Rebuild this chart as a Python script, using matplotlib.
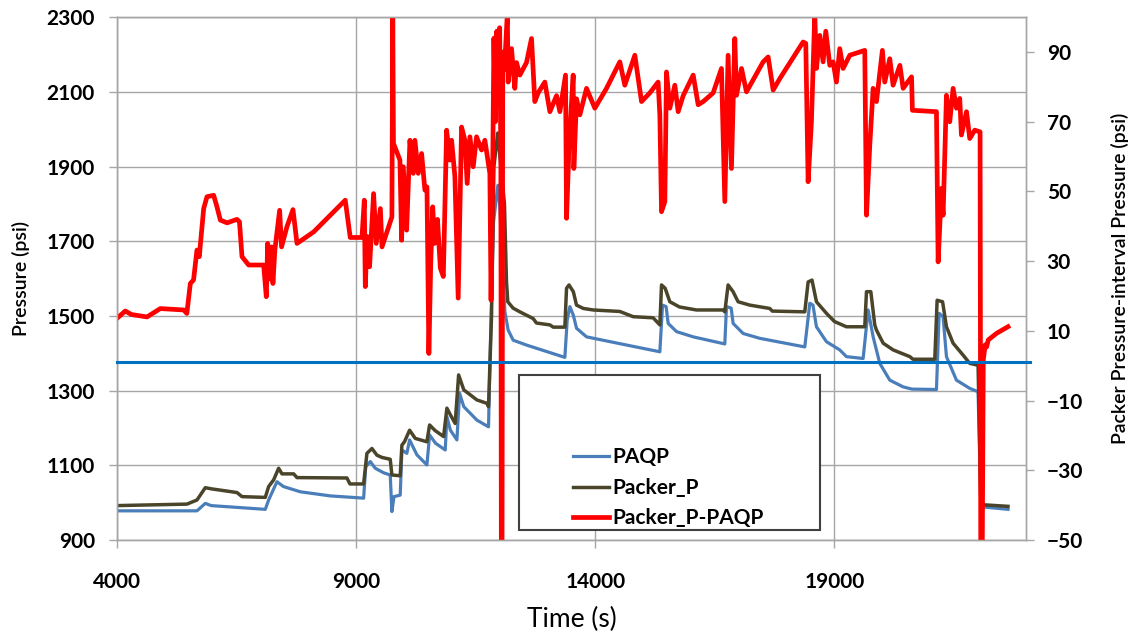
import matplotlib
matplotlib.use("Agg")
import matplotlib.pyplot as plt
from matplotlib.patches import Rectangle

plt.rcParams["font.family"] = ["Lato", "DejaVu Sans"]

# PAQP pressure (psi) against time (s)
paqp_t = [4000, 5672, 5846, 5967, 7100, 7170, 7344, 7480, 7832, 8459, 9156, 9200,
          9295, 9400, 9572, 9712, 9747, 9790, 9921, 9956, 10060, 10117, 10270, 10479,
          10535, 10660, 10862, 10897, 10970, 11106, 11162, 11250, 11524, 11767, 11802,
          11870, 11963, 12000, 12109, 12178, 12283, 12561, 13363, 13412, 13468, 13540,
          13607, 13816, 14234, 15349, 15405, 15480, 15523, 15698, 16046, 16707, 16742,
          16840, 16881, 17090, 17439, 18379, 18484, 18550, 18623, 18832, 19110, 19250,
          19599, 19703, 19808, 19947, 20156, 20435, 20620, 21132, 21188, 21270, 21341,
          21550, 21828, 22002, 22060, 22141, 22628]
paqp_p = [978, 978, 998, 992, 982, 1007, 1056, 1043, 1029, 1018, 1012, 1096,
          1110, 1092, 1080, 1074, 976, 1016, 1020, 1141, 1132, 1168, 1128, 1101,
          1181, 1159, 1141, 1230, 1194, 1168, 1293, 1257, 1221, 1203, 1400,
          1750, 1850, 1800, 1511, 1462, 1435, 1422, 1389, 1489, 1525, 1502,
          1467, 1444, 1433, 1404, 1529, 1525, 1480, 1458, 1444, 1425, 1525,
          1521, 1480, 1453, 1440, 1417, 1534, 1529, 1471, 1431, 1409, 1391,
          1386, 1516, 1444, 1373, 1328, 1310, 1304, 1303, 1507, 1498, 1391,
          1328, 1306, 1297, 995, 988, 982]

# Packer pressure (psi) against time (s)
packer_t = [4000, 5463, 5672, 5846, 5967, 6508, 6613, 7100, 7170, 7275, 7379, 7449,
            7693, 7763, 8807, 8870, 9156, 9225, 9330, 9434, 9540, 9712, 9747, 9921,
            9956, 10010, 10117, 10235, 10479, 10535, 10650, 10828, 10897, 10970, 11070,
            11142, 11250, 11524, 11733, 11767, 11830, 11880, 11960, 12100, 12143, 12170,
            12280, 12422, 12700, 12770, 13050, 13120, 13363, 13398, 13450, 13540, 13607,
            13750, 13955, 14512, 14791, 15209, 15349, 15384, 15460, 15558, 15760, 16115,
            16671, 16707, 16776, 16880, 16985, 17230, 17648, 17700, 18379, 18449, 18530,
            18623, 18832, 19000, 19250, 19633, 19669, 19760, 19842, 19878, 20018, 20227,
            20575, 20640, 21097, 21146, 21260, 21341, 21480, 21689, 21828, 22002, 22060,
            22141, 22628]
packer_p = [992, 996, 1007, 1040, 1037, 1027, 1016, 1014, 1043, 1061, 1092, 1077,
            1077, 1067, 1066, 1050, 1050, 1132, 1145, 1127, 1121, 1116, 1074, 1072,
            1154, 1163, 1194, 1172, 1163, 1208, 1193, 1177, 1253, 1235, 1212,
            1342, 1302, 1275, 1266, 1257, 1500, 1900, 1990, 1800, 1591, 1538,
            1521, 1511, 1493, 1481, 1476, 1470, 1470, 1574, 1583, 1565, 1529,
            1520, 1516, 1512, 1498, 1495, 1476, 1583, 1574, 1538, 1524, 1516,
            1516, 1511, 1583, 1565, 1538, 1529, 1520, 1513, 1511, 1591, 1596,
            1538, 1507, 1485, 1471, 1471, 1565, 1565, 1476, 1462, 1427, 1409,
            1391, 1384, 1384, 1542, 1538, 1471, 1427, 1395, 1373, 1368, 1000,
            994, 990]

# Packer minus interval pressure (psi), right axis
diff_t = [4000, 4174, 4300, 4627, 4905, 5394, 5460, 5533, 5600, 5672, 5720, 5777,
          5812, 5881, 6021, 6090, 6160, 6300, 6508, 6560, 6613, 6752, 7066, 7121,
          7150, 7190, 7230, 7260, 7300, 7400, 7440, 7553, 7679, 7763, 8111, 8772,
          8876, 9121, 9170, 9191, 9230, 9280, 9364, 9420, 9506, 9540, 9747, 9765,
          9780, 9915, 9950, 9985, 10055, 10124, 10194, 10228, 10298, 10368, 10437, 10480,
          10520, 10560, 10600, 10640, 10700, 10760, 10822, 10891, 10960, 10995, 11064, 11133,
          11203, 11273, 11321, 11378, 11447, 11517, 11622, 11691, 11795, 11820, 11850, 11880,
          11910, 11940, 11975, 12000, 12025, 12035, 12050, 12065, 12100, 12160, 12178, 12248,
          12317, 12352, 12422, 12561, 12666, 12735, 12805, 12944, 13050, 13189, 13259, 13377,
          13398, 13454, 13537, 13551, 13607, 13677, 13816, 13990, 14234, 14512, 14617, 14826,
          14966, 15140, 15313, 15349, 15384, 15453, 15488, 15558, 15662, 15732, 15837, 16046,
          16150, 16255, 16464, 16637, 16707, 16776, 16846, 16916, 16951, 17056, 17160, 17509,
          17613, 17718, 17857, 18344, 18400, 18449, 18518, 18588, 18623, 18693, 18762, 18818,
          18902, 18971, 19041, 19110, 19180, 19320, 19633, 19669, 19738, 19808, 19878, 20002,
          20051, 20156, 20225, 20367, 20435, 20611, 20629, 21132, 21167, 21237, 21271, 21341,
          21410, 21480, 21550, 21619, 21654, 21760, 21828, 21933, 22044, 22058, 22090, 22111,
          22150, 22181, 22215, 22389, 22628]
diff_p = [13.6, 15.7, 14.7, 14.0, 16.4, 16.0, 15.0, 23.6, 24.6, 33.2, 31.3, 39.9,
          45.1, 48.5, 48.9, 45.6, 41.8, 41.0, 42.0, 41.3, 31.3, 28.9, 28.9, 19.8,
          35.1, 24.9, 34.1, 23.6, 33.2, 44.6, 34.1, 39.9, 44.8, 35.1, 38.4, 47.5,
          36.8, 36.8, 47.5, 22.7, 37.1, 28.4, 49.4, 35.1, 45.1, 34.1, 42.7, 101,
          63.8, 59.0, 36.0, 57.1, 38.9, 64.7, 55.2, 64.7, 55.2, 60.9, 50.4, 51.3,
          3.5, 30.0, 45.6, 35.1, 42.0, 28.0, 25.6, 67.6, 59.0, 64.7, 54.3, 19.4,
          68.5, 64.7, 52.3, 65.7, 57.1, 65.7, 61.9, 64.7, 55.2, 18.8, 50.0, 94.0,
          70.0, 96.0, 88.0, 97.0, 60.0, -52, -52, 90.0, 85.0, 101, 81.4, 91.0,
          79.6, 87.0, 83.4, 87.0, 93.9, 75.8, 78.3, 81.4, 72.9, 77.5, 72.9, 83.4,
          42.3, 64.3, 83.4, 56.6, 76.6, 72.0, 79.6, 73.9, 79.6, 87.2, 80.5, 89.1,
          75.8, 78.3, 81.4, 71.9, 44.2, 47.1, 84.3, 73.9, 80.5, 72.9, 77.5, 83.4,
          74.9, 75.8, 78.3, 85.3, 47.1, 89.1, 56.6, 93.9, 77.6, 85.3, 78.6, 87.2,
          88.6, 79.1, 82.4, 92.9, 92.5, 52.8, 70.0, 101, 85.3, 94.8, 87.2, 96.0,
          86.2, 87.2, 81.4, 91.0, 85.3, 89.1, 90.5, 43.2, 63.3, 79.6, 75.8, 90.5,
          81.4, 88.1, 80.5, 86.2, 79.6, 82.9, 73.3, 72.9, 29.8, 50.9, 43.2, 77.6,
          70.0, 79.6, 73.9, 76.7, 66.2, 72.9, 65.2, 67.6, 67.1, -52, -52, 1.6,
          6.0, 5.4, 7.4, 9.3, 11.2]

ref_level = 1.0  # reference line on the right axis (psi)

grid_col = "#a6a6a6"

fig = plt.figure(figsize=(11.36, 6.39), dpi=100)
ax = fig.add_axes([0.103, 0.155, 0.800, 0.818])
ax2 = ax.twinx()

ax.plot(paqp_t, paqp_p, color="#4a7ebb", lw=2.3, label="PAQP")
ax.plot(packer_t, packer_p, color="#4a452a", lw=2.5, label="Packer_P")
ax2.plot(diff_t, diff_p, color="#ff0000", lw=3.4, label="Packer_P-PAQP")
ax2.axhline(ref_level, xmin=0, xmax=1.005, color="#0070c0", lw=2.2,
            clip_on=False, zorder=5)

ax.set_xlim(4000, 23000)
ax.set_ylim(900, 2300)
ax2.set_ylim(-50, 100)
ax.set_xticks(range(4000, 23001, 5000))
ax.set_yticks(range(900, 2301, 200))
ax2.set_yticks(range(-50, 91, 20))

ax.grid(True, color=grid_col, lw=1.0)
ax.set_axisbelow(True)
for a in (ax, ax2):
    for s in a.spines.values():
        s.set_color(grid_col)
        s.set_linewidth(1.0)

ax.tick_params(axis="x", length=6, width=1, color=grid_col, pad=17, labelsize=15)
ax.tick_params(axis="y", length=6, width=1, color=grid_col, pad=10, labelsize=15)
ax2.tick_params(axis="y", length=6, width=1, color=grid_col, pad=9, labelsize=15)
for lbl in ax.get_xticklabels() + ax.get_yticklabels() + ax2.get_yticklabels():
    lbl.set_fontweight("bold")

ax.set_xlabel("Time (s)", fontsize=19, labelpad=11)
ax.set_ylabel("Pressure (psi)", fontsize=14, fontweight="semibold", labelpad=12)
ax2.set_ylabel("Packer Pressure-interval Pressure (psi)", fontsize=14,
               fontweight="semibold", labelpad=20)

# legend: framed box with the entries in its lower part
box = Rectangle((0.442, 0.019), 0.331, 0.297, transform=ax2.transAxes,
                facecolor="white", edgecolor="#404040", lw=1.5, zorder=6)
ax2.add_patch(box)
h1, l1 = ax.get_legend_handles_labels()
h2, l2 = ax2.get_legend_handles_labels()
leg = ax2.legend(h1 + h2, l1 + l2, loc="upper left", bbox_to_anchor=(0.502, 0.177),
                 frameon=False, fontsize=15, handlelength=1.7, handletextpad=0.2,
                 labelspacing=0.5, borderaxespad=0, borderpad=0)
leg.set_zorder(7)
for t in leg.get_texts():
    t.set_fontweight("bold")

fig.savefig("out.png", dpi=100)
